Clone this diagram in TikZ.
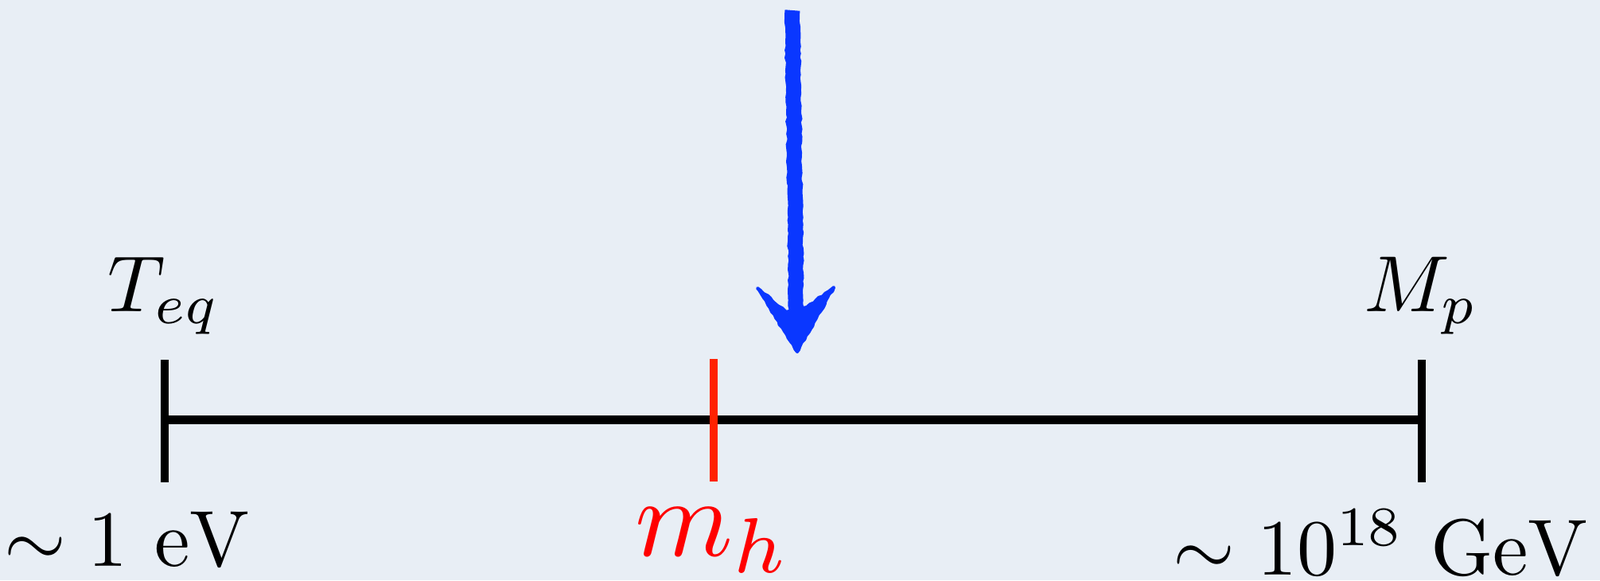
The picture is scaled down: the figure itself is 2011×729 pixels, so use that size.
\documentclass[tikz,border=0pt]{standalone}
\usepackage{graphicx}
\usetikzlibrary{decorations.pathmorphing}
\definecolor{bg}{RGB}{232,238,245}
\definecolor{tickred}{RGB}{255,34,0}
\definecolor{arrowblue}{RGB}{10,55,255}
\tikzset{
  axisline/.style={line width=11pt, black},
  blacktick/.style={line width=10pt, black},
  redtick/.style={line width=10pt, tickred},
  lbl/.style={anchor=base, inner sep=0pt},
  bigred/.style={anchor=base, inner sep=0pt, text=red},
  scribble/.style={arrowblue, decorate, decoration={random steps, segment length=5pt, amplitude=1pt}}
}
\newcommand{\bigtxt}[1]{\scalebox{10}{#1}}
\newcommand{\hugetxt}[1]{\scalebox{14}{#1}}
\begin{document}
\begin{tikzpicture}[x=1pt,y=-1pt]
\fill[bg] (0,0) rectangle (2011,729);
\useasboundingbox (0,0) rectangle (2011,729);
% axis
\coordinate (L) at (207,527);
\coordinate (R) at (1787,527);
\coordinate (Lt) at (207,452);
\coordinate (Lb) at (207,606);
\coordinate (Rt) at (1787,452);
\coordinate (Rb) at (1787,606);
\coordinate (Ht) at (897,451);
\coordinate (Hb) at (897,605);
\draw[axisline] (L) -- (R);
\draw[blacktick] (Lt) -- (Lb);
\draw[blacktick] (Rt) -- (Rb);
\draw[redtick] (Ht) -- (Hb);
% labels
\node[lbl] (teq) at (206,391) {\bigtxt{$T_{eq}$}};
\node[lbl] (mp) at (1786,391) {\bigtxt{$M_p$}};
\node[lbl] (ev) at (160,711) {\bigtxt{$\sim 1\ \mathrm{eV}$}};
\node[lbl] (gev) at (1736,722) {\bigtxt{$\sim 10^{18}~\mathrm{GeV}$}};
\node[bigred] (mh) at (896,698) {\hugetxt{$m_h$}};
% hand-drawn arrow
\coordinate (At) at (996,13);
\coordinate (Ab) at (1001,405);
\coordinate (Tip) at (1002,442);
\coordinate (Wl) at (952,362);
\coordinate (Wr) at (1048,361);
\coordinate (Nl) at (988,392);
\coordinate (Nr) at (1014,386);
\draw[scribble, line width=19pt] (At) -- (Ab);
\fill[scribble, line width=4pt, draw=arrowblue, line join=round] (Wl) -- (Nl) -- (Nr) -- (Wr) -- (Tip) -- cycle;
\end{tikzpicture}
\end{document}
